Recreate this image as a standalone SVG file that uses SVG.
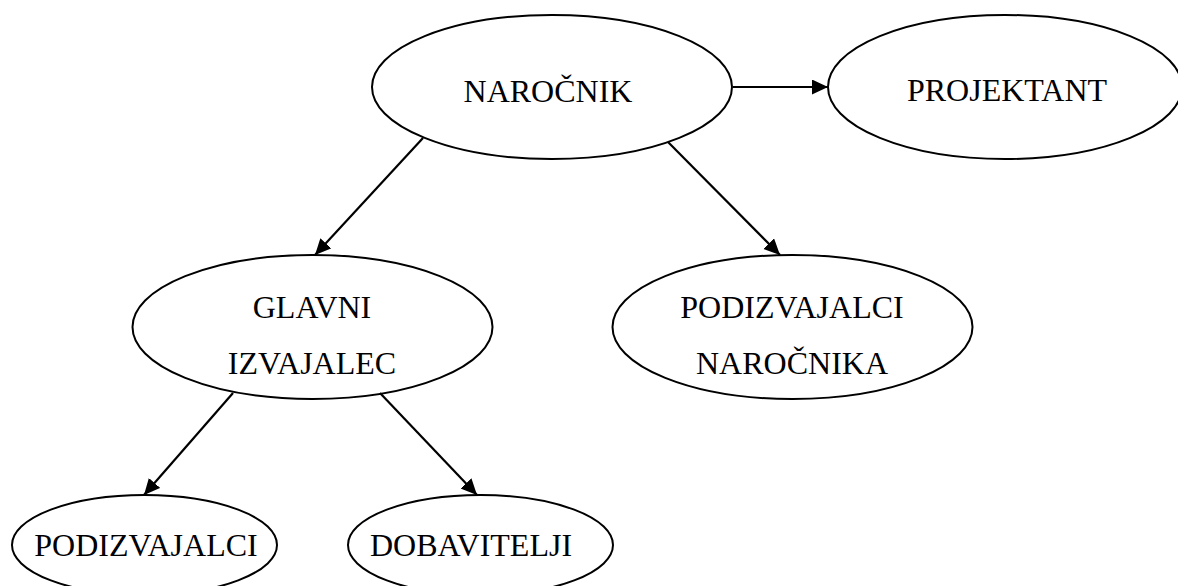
<svg xmlns="http://www.w3.org/2000/svg" width="1178" height="586" viewBox="0 0 1178 586">
  <style>
    .node ellipse { fill: #ffffff; stroke: #000000; stroke-width: 2; }
    .node text { font-family: "Liberation Serif", "Times New Roman", serif; font-size: 32px; fill: #000000; text-anchor: middle; }
    .conn line { stroke: #000000; stroke-width: 2.2; marker-end: url(#arrow); }
  </style>
  <defs>
    <marker id="arrow" markerUnits="userSpaceOnUse" markerWidth="18" markerHeight="18" refX="16" refY="7.5" orient="auto">
      <path d="M0,0 L16,7.5 L0,15 z" fill="#000000"/>
    </marker>
  </defs>
  <rect width="1178" height="586" fill="#ffffff"/>
  <g id="narocnik" class="node">
    <ellipse cx="552" cy="87" rx="180" ry="72"/>
    <text x="548" y="102">NAROČNIK</text>
  </g>
  <g id="projektant" class="node">
    <ellipse cx="1005" cy="87" rx="177" ry="72"/>
    <text x="1007" y="101">PROJEKTANT</text>
  </g>
  <g id="glavni-izvajalec" class="node">
    <ellipse cx="312.5" cy="327" rx="180" ry="72"/>
    <text x="312" y="318">GLAVNI</text>
    <text x="312" y="374">IZVAJALEC</text>
  </g>
  <g id="podizvajalci-narocnika" class="node">
    <ellipse cx="792.5" cy="327" rx="180" ry="72"/>
    <text x="792" y="318">PODIZVAJALCI</text>
    <text x="792" y="374">NAROČNIKA</text>
  </g>
  <g id="podizvajalci" class="node">
    <ellipse cx="144.5" cy="545" rx="132.5" ry="50"/>
    <text x="146" y="556">PODIZVAJALCI</text>
  </g>
  <g id="dobavitelji" class="node">
    <ellipse cx="480.5" cy="545" rx="132.5" ry="50"/>
    <text x="471" y="556">DOBAVITELJI</text>
  </g>
  <g id="connectors" class="conn">
    <line x1="733" y1="87" x2="828" y2="87"/>
    <line x1="423" y1="138" x2="315" y2="255"/>
    <line x1="668" y1="142" x2="780" y2="255"/>
    <line x1="233" y1="393" x2="144" y2="495"/>
    <line x1="380" y1="393" x2="477" y2="495"/>
  </g>
</svg>
